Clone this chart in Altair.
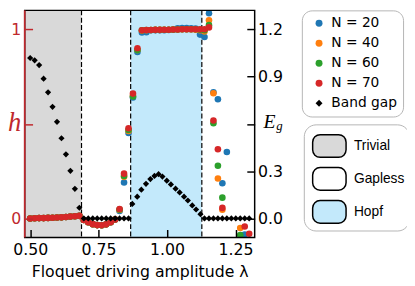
import altair as alt
import pandas as pd

# ---------------- data ----------------
LAM = [0.5, 0.5163, 0.5327, 0.549, 0.5653, 0.5816, 0.598, 0.6143, 0.6306, 0.6469,
       0.6633, 0.6796, 0.6959, 0.7122, 0.7286, 0.7449, 0.7612, 0.7776, 0.7939, 0.8102,
       0.8265, 0.8429, 0.8592, 0.8755, 0.8918, 0.9082, 0.9245, 0.9408, 0.9571, 0.9735,
       0.9898, 1.0061, 1.0224, 1.0388, 1.0551, 1.0714, 1.0878, 1.1041, 1.1204, 1.1367,
       1.1531, 1.1694, 1.1857, 1.2020, 1.2184, 1.2347, 1.2510, 1.2673, 1.2837, 1.3]

H_N70 = [0.000, 0.001, 0.002, 0.002, 0.003, 0.004, 0.005, 0.006, 0.008, 0.010, 0.012, 0.014,
         -0.008, -0.020, -0.030, -0.035, -0.036, -0.031, -0.020, -0.006,
         0.050, 0.237, 0.477, 0.660, 0.900,
         0.995, 0.996, 0.996, 0.997, 0.997, 0.998, 0.998, 0.999, 0.999, 1.000, 1.000, 1.000, 1.000, 1.000, 1.000,
         1.010, 0.518, 0.366, 0.056, None, None, None, None, -0.042, -0.081]
H_N60 = [0.000, 0.001, 0.002, 0.002, 0.003, 0.004, 0.005, 0.006, 0.008, 0.010, 0.012, 0.014,
         -0.008, -0.020, -0.030, -0.035, -0.036, -0.031, -0.020, -0.006,
         0.047, 0.225, 0.468, 0.645, 0.890,
         0.995, 0.996, 0.996, 0.997, 0.997, 0.998, 0.998, 0.999, 0.999, 1.000, 1.000, 1.000, 1.000, 0.998, 0.995,
         1.022, 0.503, 0.279, 0.110, None, None, None, -0.088, None, None]
H_N40 = [0.000, 0.001, 0.002, 0.002, 0.003, 0.004, 0.005, 0.006, 0.008, 0.010, 0.012, 0.014,
         -0.008, -0.020, -0.030, -0.035, -0.036, -0.031, -0.020, -0.006,
         0.045, 0.220, 0.462, 0.648, 0.890,
         0.993, 0.995, 0.996, 0.997, 0.997, 0.998, 0.998, 0.999, 0.999, 1.000, 1.000, 1.000, 0.998, 0.995, 0.988,
         1.048, 0.662, 0.211, 0.046, None, None, None, -0.050, None, None]
H_N20 = [0.000, 0.001, 0.002, 0.002, 0.003, 0.004, 0.005, 0.006, 0.008, 0.010, 0.012, 0.014,
         -0.008, -0.020, -0.030, -0.035, -0.036, -0.031, -0.020, -0.006,
         0.040, 0.190, 0.452, 0.640, 0.880,
         0.983, 0.985, 0.995, 0.995, 0.995, 0.995, 0.996, 0.998, 1.005, 1.006, 1.006, 1.005, 1.004, 0.972, 0.959,
         1.085, 0.667, 0.630, 0.186, 0.351, None, None, None, -0.085, None]

GAP_LAM = [0.5, 0.5163, 0.5327, 0.549, 0.5653, 0.5816, 0.598, 0.6143, 0.6306, 0.6469,
           0.6633, 0.6796, 0.6959, 0.7122, 0.7286, 0.7449, 0.7612, 0.7776, 0.7939, 0.8102,
           0.8265, 0.8429, 0.8592,
           0.873, 0.891, 0.906, 0.923, 0.939, 0.954, 0.969, 0.983, 0.999, 1.014, 1.031,
           1.046, 1.062, 1.076, 1.092, 1.106, 1.122,
           1.1367, 1.1531, 1.1694, 1.1857, 1.2020, 1.2184, 1.2347, 1.2510, 1.2673, 1.2837, 1.3]
GAP_VAL = [1.018, 1.003, 0.973, 0.887, 0.800, 0.708, 0.613, 0.509, 0.407, 0.302, 0.188, 0.068,
           0.0, 0.0, 0.0, 0.0, 0.0, 0.0, 0.0, 0.0, 0.0, 0.0, 0.0,
           0.092, 0.138, 0.183, 0.220, 0.250, 0.270, 0.281, 0.266, 0.240, 0.216, 0.189,
           0.165, 0.138, 0.114, 0.083, 0.057, 0.027,
           0.0, 0.0, 0.0, 0.0, 0.0, 0.0, 0.0, 0.0, 0.0, 0.0, 0.0]

SERIES = ["N = 20", "N = 40", "N = 60", "N = 70", "Band gap"]
SERIES_COLORS = ["#1f77b4", "#ff7f0e", "#2ca02c", "#d62728", "#000000"]
SERIES_SHAPES = ["circle", "circle", "circle", "circle", "diamond"]

PHASE_NAMES = ["Trivial", "Gapless", "Hopf"]
PHASE_COLORS = ["#d9d9d9", "#ffffff", "#c3e9fb"]
REGION_PHASE = ["Trivial", "Gapless", "Hopf", "Gapless"]
REGION_START = [0.48, 0.6875, 0.867, 1.127]
REGION_END = [0.6875, 0.867, 1.127, 1.32]
BOUNDARIES = [0.6875, 0.867, 1.127]

X_DOMAIN = [0.48, 1.32]
H_DOMAIN = [-0.1, 1.1]
EG_DOMAIN = [-0.12, 1.32]
X_TICKS = [0.5, 0.75, 1.0, 1.25]
H_TICKS = [0, 0.5, 1]
EG_TICKS = [0, 0.3, 0.6, 0.9, 1.2]

# ---------------- tables ----------------
rows = []
for name, vals in zip(SERIES[:4], [H_N20, H_N40, H_N60, H_N70]):
    for lam, v in zip(LAM, vals):
        if v is not None:
            rows.append({"lam": lam, "h": v, "series": name})
df_h = pd.DataFrame(rows)
df_gap = pd.DataFrame({"lam": GAP_LAM, "eg": GAP_VAL, "series": "Band gap"})
df_reg = pd.DataFrame({"phase": REGION_PHASE, "start": REGION_START, "end": REGION_END})
df_b = pd.DataFrame({"lam": BOUNDARIES})
one = pd.DataFrame({"a": [0]})

RED = "#c0282d"
W, H = 234, 231
FONT = "DejaVu Sans"

xscale = alt.Scale(domain=X_DOMAIN, nice=False, zero=False)
xaxis = alt.Axis(values=X_TICKS, format=".2f", title="Floquet driving amplitude λ",
                 offset=-8, domain=False, grid=False, tickSize=8, tickWidth=1.5,
                 tickColor="black", labelColor="black", labelFont=FONT, labelFontSize=16,
                 labelPadding=4, labelOverlap=False, labelFlush=False, zindex=1,
                 titleFont=FONT, titleFontSize=16, titleFontWeight="normal",
                 titleColor="black", titleBaseline="alphabetic", titleY=48)

color_scale = alt.Scale(domain=SERIES, range=SERIES_COLORS)
shape_scale = alt.Scale(domain=SERIES, range=SERIES_SHAPES)
legend1 = alt.Legend(orient="none", legendX=282, legendY=0, title=None, padding=6,
                     cornerRadius=10, strokeColor="#b5b5b5", fillColor="white",
                     symbolOffset=4.5, labelOffset=5.5, rowPadding=6.4, symbolSize=50,
                     symbolStrokeWidth=0, labelFont=FONT, labelFontSize=14,
                     labelColor="black")

RR = ("M -0.55 -0.68 L 0.55 -0.68 A 0.45 0.45 0 0 1 1 -0.23 L 1 0.23 "
      "A 0.45 0.45 0 0 1 0.55 0.68 L -0.55 0.68 A 0.45 0.45 0 0 1 -1 0.23 "
      "L -1 -0.23 A 0.45 0.45 0 0 1 -0.55 -0.68 Z")
legend2 = alt.Legend(orient="none", legendX=284, legendY=116, title=None, padding=4,
                     cornerRadius=12, strokeColor="#b5b5b5", fillColor="white",
                     symbolType=RR, symbolSize=1156, symbolStrokeColor="black",
                     symbolStrokeWidth=1.5, symbolOffset=4, labelOffset=7,
                     rowPadding=0.5, labelFont="Liberation Sans", labelFontSize=14,
                     labelColor="black")

regions = alt.Chart(df_reg).mark_rect().encode(
    x=alt.X("start:Q", scale=xscale, axis=xaxis),
    x2="end:Q",
    fill=alt.Fill("phase:N", scale=alt.Scale(domain=PHASE_NAMES, range=PHASE_COLORS),
                  legend=legend2),
)

rules = alt.Chart(df_b).mark_rule(color="black", strokeWidth=1.2, strokeDash=[5, 2.5]).encode(
    x=alt.X("lam:Q", scale=xscale, axis=xaxis)
)

haxis = alt.Axis(orient="left", values=H_TICKS,
                 labelExpr="datum.value == 0.5 ? '' : format(datum.value, 'd')",
                 offset=-8, domain=False, grid=False, tickSize=8, tickWidth=1.5,
                 tickColor=RED, labelColor=RED, labelFont=FONT, labelFontSize=16,
                 labelPadding=4, labelOverlap=False, zindex=1, title=None)
hpts = alt.Chart(df_h).mark_point(filled=True, size=45, opacity=1, clip=True).encode(
    x=alt.X("lam:Q", scale=xscale, axis=xaxis),
    y=alt.Y("h:Q", scale=alt.Scale(domain=H_DOMAIN, nice=False, zero=False), axis=haxis),
    color=alt.Color("series:N", scale=color_scale, legend=legend1),
    shape=alt.Shape("series:N", scale=shape_scale, legend=legend1),
)

gaxis = alt.Axis(orient="right", values=EG_TICKS,
                 labelExpr="datum.value == 0.6 ? '' : format(datum.value, '.1f')",
                 offset=-8, domain=False, grid=False, tickSize=8, tickWidth=1.5,
                 tickColor="black", labelColor="black", labelFont=FONT, labelFontSize=16,
                 labelPadding=3, labelOverlap=False, zindex=1, title=None)
gpts = alt.Chart(df_gap).mark_point(filled=True, size=40, opacity=1, clip=True).encode(
    x=alt.X("lam:Q", scale=xscale, axis=xaxis),
    y=alt.Y("eg:Q", scale=alt.Scale(domain=EG_DOMAIN, nice=False, zero=False), axis=gaxis),
    color=alt.Color("series:N", scale=color_scale, legend=legend1),
    shape=alt.Shape("series:N", scale=shape_scale, legend=legend1),
)

frame = alt.Chart(one).mark_rect(filled=False, stroke="black", strokeWidth=1.5).encode(
    x=alt.value(0), x2=alt.value(W), y=alt.value(0), y2=alt.value(H))
redspine = alt.Chart(one).mark_rule(color=RED, strokeWidth=1.7).encode(
    x=alt.value(0), y=alt.value(0), y2=alt.value(H))

h_lab = alt.Chart(one).mark_text(text="h", font="Liberation Serif", fontStyle="italic",
                                 fontSize=27, color=RED, align="left",
                                 baseline="alphabetic").encode(x=alt.value(-17), y=alt.value(123))
e_lab = alt.Chart(one).mark_text(text="E", font="Liberation Serif", fontStyle="italic",
                                 fontSize=20, color="black", align="left",
                                 baseline="alphabetic").encode(x=alt.value(243), y=alt.value(120))
g_lab = alt.Chart(one).mark_text(text="g", font="Liberation Serif", fontStyle="italic",
                                 fontSize=13, color="black", align="left",
                                 baseline="alphabetic").encode(x=alt.value(256), y=alt.value(122))

chart = alt.layer(regions, rules, hpts, gpts, frame, redspine, h_lab, e_lab, g_lab).resolve_scale(
    y="independent"
).properties(
    width=W, height=H,
    autosize=alt.AutoSizeParams(type="none"),
    padding={"left": 17, "top": 0, "right": 155, "bottom": 45},
    background="white",
).configure_view(stroke=None)

chart.save("out.html", embed_options={"renderer": "svg", "actions": False})
